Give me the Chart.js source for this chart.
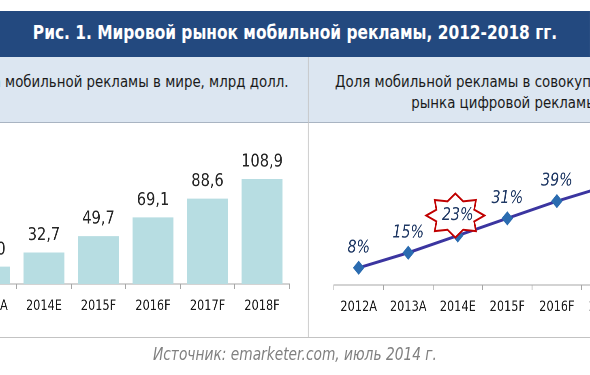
<!DOCTYPE html>
<html>
<head>
<meta charset="utf-8">
<script src="https://cdn.jsdelivr.net/npm/chart.js@4"></script>
<style>
  body { margin: 0; overflow: hidden; background: #fff; }
  #stage {
    position: absolute; left: 0; top: 0; width: 728px; height: 375px;
    overflow: hidden; transform: scaleX(0.8104); transform-origin: 0 0;
    font-family: 'DejaVu Sans', Verdana, sans-serif;
  }
  .abs { position: absolute; }
  #title {
    left: 0; top: 11px; width: 728px; height: 46px; background: #23497f;
    color: #fff; font-weight: bold; font-size: 19px; line-height: 42px; text-align: center;
  }
  #band { left: 0; top: 57px; width: 728px; height: 65px; background: #dce6f1; border-bottom: 1px solid #a9b4c2; }
  .head { color: #1a1a1a; font-size: 16.5px; text-align: center; line-height: 21px; white-space: nowrap; }
  #vsep { left: 380px; top: 57px; width: 1px; height: 280px; background: #c3c3c3; }
  #hsep { left: 0; top: 337px; width: 728px; height: 1px; background: #c3c3c3; }
  #source { left: 0; top: 344px; width: 728px; text-align: center; font-style: italic; color: #808080; font-size: 17px; }
</style>
</head>
<body>
<div id="stage">
  <div id="title" class="abs">Рис. 1. Мировой рынок мобильной рекламы, 2012-2018 гг.</div>
  <div id="band" class="abs"></div>
  <div class="abs head" style="left:-135px; width:510px; top:71px;">Объем рынка мобильной рекламы в мире, млрд долл.</div>
  <div class="abs head" style="left:393px; width:460px; top:71px;">Доля мобильной рекламы в совокупном объеме</div>
  <div class="abs head" style="left:405px; width:460px; top:92px;">рынка цифровой рекламы, %</div>
  <div id="vsep" class="abs"></div>
  <div id="hsep" class="abs"></div>
  <div class="abs" style="left:-130px; top:122px; width:510px; height:215px;"><canvas id="barChart"></canvas></div>
  <div class="abs" style="left:380px; top:122px; width:480px; height:215px;"><canvas id="lineChart"></canvas></div>
  <div id="source" class="abs">Источник: emarketer.com, июль 2014 г.</div>
</div>
<script>
const years = ['2012A', '2013A', '2014E', '2015F', '2016F', '2017F', '2018F']
const marketValues = [8.8, 18.0, 32.7, 49.7, 69.1, 88.6, 108.9]
const shareValues = [8, 15, 23, 31, 39, 46, 51]
const starIndex = 2

const tickFont = { family: 'DejaVu Sans', size: 14 }
const axisColor = '#a6a6a6'

function valueLabels(cfg) {
    return {
        id: 'valueLabels',
        afterDatasetsDraw(chart) {
            const ctx = chart.ctx
            const meta = chart.getDatasetMeta(0)
            const data = chart.data.datasets[0].data
            ctx.save()
            meta.data.forEach((el, i) => {
                const x = el.x
                const y = el.y - cfg.offset
                if (cfg.star === i) {
                    // red eight-point star behind the highlighted label
                    ctx.beginPath()
                    for (let k = 0; k < 16; k++) {
                        const a = -Math.PI / 2 + k * Math.PI / 8
                        const r = k % 2 === 0 ? 1 : 0.7
                        ctx.lineTo(x - 3 + Math.cos(a) * 36 * r, y + Math.sin(a) * 22 * r)
                    }
                    ctx.closePath()
                    ctx.fillStyle = '#fff'
                    ctx.fill()
                    ctx.lineWidth = 2
                    ctx.strokeStyle = '#c00000'
                    ctx.stroke()
                }
                ctx.font = cfg.font
                ctx.fillStyle = cfg.color
                ctx.textAlign = 'center'
                ctx.textBaseline = 'middle'
                ctx.fillText(cfg.format(data[i]), x, y)
            })
            ctx.restore()
        }
    }
}

const xAxis = {
    grid: { offset: true, drawOnChartArea: false, tickLength: 5, color: axisColor },
    border: { color: axisColor },
    ticks: { font: tickFont, color: '#1a1a1a', padding: 9, maxRotation: 0, autoSkip: false },
}

new Chart(document.getElementById('barChart'), {
    type: 'bar',
    data: {
        labels: years,
        datasets: [{
            data: marketValues,
            backgroundColor: '#b7dde2',
            barPercentage: 0.75,
            categoryPercentage: 1
        }]
    },
    options: {
        responsive: true,
        maintainAspectRatio: false,
        animation: false,
        devicePixelRatio: 2,
        layout: { padding: { left: 16, right: 23, top: 27, bottom: 0 } },
        plugins: { legend: { display: false }, tooltip: { enabled: false } },
        scales: {
            x: Object.assign({}, xAxis, { afterFit(s) { s.height = 53 } }),
            y: { display: false, min: 0, max: 140 }
        }
    },
    plugins: [valueLabels({
        font: '18px "DejaVu Sans"', color: '#262626', offset: 17,
        format: v => v.toFixed(1).replace('.', ',')
    })]
})

new Chart(document.getElementById('lineChart'), {
    type: 'line',
    data: {
        labels: years,
        datasets: [{
            data: shareValues,
            borderColor: '#3b35a0',
            borderWidth: 3,
            tension: 0,
            pointStyle: 'rectRot',
            pointRadius: 5,
            pointBackgroundColor: '#2b6cb0',
            pointBorderColor: '#2b6cb0'
        }]
    },
    options: {
        responsive: true,
        maintainAspectRatio: false,
        animation: false,
        devicePixelRatio: 2,
        layout: { padding: { left: 32, right: 20, top: 34, bottom: 0 } },
        plugins: { legend: { display: false }, tooltip: { enabled: false } },
        scales: {
            x: Object.assign({}, xAxis, { offset: true, afterFit(s) { s.height = 52 } }),
            y: { display: false, min: 0, max: 60 }
        }
    },
    plugins: [valueLabels({
        font: 'italic 17.5px "DejaVu Sans"', color: '#1f3864', offset: 20,
        format: v => v + '%', star: starIndex
    })]
})
</script>
</body>
</html>
